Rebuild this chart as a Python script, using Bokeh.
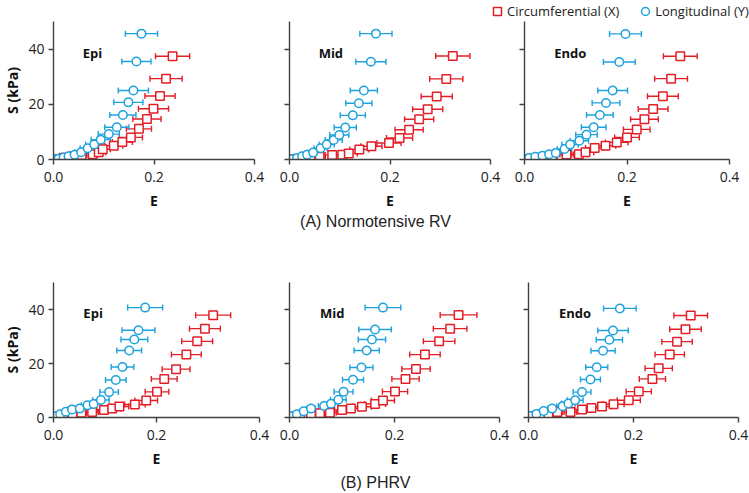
from bokeh.plotting import figure
from bokeh.models import (ColumnDataSource, Whisker, TeeHead, Range1d, FixedTicker,
                          Label, Legend, LegendItem, NumeralTickFormatter, CustomJSTickFormatter)
from bokeh.layouts import column, row
from bokeh.embed import file_html
from bokeh.resources import INLINE

RED = "#E41E26"
BLUE = "#1EA2DE"

# ---------------- (A) Normotensive RV ----------------
a_epi_circ_E = [0.000, 0.007, 0.020, 0.040, 0.056, 0.078, 0.090, 0.098, 0.120, 0.137, 0.154, 0.170, 0.186, 0.199, 0.212, 0.224, 0.237]
a_epi_circ_S = [0.0, 0.2, 0.6, 1.2, 1.6, 1.9, 2.6, 3.7, 5.0, 6.3, 8.0, 11.1, 14.7, 18.4, 23.0, 29.3, 37.4]
a_epi_circ_err = [0.002, 0.003, 0.005, 0.008, 0.010, 0.012, 0.014, 0.015, 0.018, 0.020, 0.023, 0.025, 0.028, 0.030, 0.030, 0.032, 0.034]
a_epi_long_E = [0.003, 0.010, 0.020, 0.030, 0.042, 0.055, 0.068, 0.081, 0.094, 0.110, 0.126, 0.138, 0.149, 0.159, 0.165, 0.175]
a_epi_long_S = [0.1, 0.3, 0.7, 1.2, 1.7, 2.6, 4.1, 5.4, 7.2, 9.2, 11.7, 16.1, 20.7, 25.0, 35.5, 45.6]
a_epi_long_err = [0.002, 0.004, 0.006, 0.008, 0.010, 0.012, 0.015, 0.017, 0.019, 0.021, 0.024, 0.026, 0.029, 0.030, 0.029, 0.032]

a_mid_circ_E = [0.000, 0.012, 0.025, 0.042, 0.060, 0.085, 0.105, 0.118, 0.139, 0.163, 0.198, 0.219, 0.238, 0.258, 0.275, 0.293, 0.312, 0.325]
a_mid_circ_S = [0.0, 0.1, 0.2, 0.7, 1.0, 1.6, 1.7, 2.2, 3.6, 4.8, 6.0, 7.8, 10.8, 14.6, 18.2, 22.8, 29.2, 37.5]
a_mid_circ_err = [0.002, 0.004, 0.006, 0.008, 0.011, 0.014, 0.016, 0.017, 0.019, 0.021, 0.024, 0.026, 0.028, 0.029, 0.030, 0.031, 0.033, 0.034]
a_mid_long_E = [0.005, 0.015, 0.025, 0.035, 0.047, 0.062, 0.074, 0.088, 0.099, 0.111, 0.126, 0.138, 0.148, 0.162, 0.172]
a_mid_long_S = [0.1, 0.5, 1.2, 1.7, 2.5, 4.1, 5.4, 7.1, 8.9, 11.6, 16.0, 20.4, 25.0, 35.4, 45.6]
a_mid_long_err = [0.003, 0.005, 0.007, 0.009, 0.011, 0.013, 0.015, 0.017, 0.019, 0.022, 0.025, 0.026, 0.027, 0.030, 0.032]

a_endo_circ_E = [0.006, 0.019, 0.035, 0.054, 0.082, 0.106, 0.119, 0.137, 0.158, 0.180, 0.200, 0.219, 0.234, 0.251, 0.270, 0.286, 0.304]
a_endo_circ_S = [0.1, 0.2, 0.5, 1.0, 1.8, 1.9, 2.6, 4.2, 5.0, 6.2, 8.0, 10.9, 14.6, 18.3, 22.9, 29.3, 37.4]
a_endo_circ_err = [0.003, 0.005, 0.007, 0.010, 0.013, 0.015, 0.016, 0.018, 0.020, 0.022, 0.024, 0.026, 0.027, 0.029, 0.030, 0.032, 0.033]
a_endo_long_E = [0.003, 0.009, 0.021, 0.035, 0.048, 0.061, 0.078, 0.089, 0.107, 0.121, 0.135, 0.147, 0.159, 0.172, 0.185, 0.197]
a_endo_long_S = [0.1, 0.5, 1.0, 1.4, 1.9, 2.4, 3.8, 5.4, 6.8, 9.0, 11.7, 16.1, 20.5, 25.0, 35.3, 45.5]
a_endo_long_err = [0.002, 0.004, 0.006, 0.008, 0.010, 0.012, 0.014, 0.016, 0.018, 0.021, 0.024, 0.026, 0.027, 0.029, 0.031, 0.031]

# ---------------- (B) PHRV ----------------
b_epi_circ_E = [0.002, 0.008, 0.019, 0.037, 0.054, 0.075, 0.098, 0.114, 0.128, 0.158, 0.180, 0.201, 0.215, 0.238, 0.258, 0.279, 0.294, 0.310]
b_epi_circ_S = [0.0, 0.4, 0.9, 1.3, 1.8, 2.0, 2.8, 3.3, 4.1, 4.8, 6.3, 9.5, 14.3, 17.9, 23.3, 28.2, 32.9, 37.9]
b_epi_circ_err = [0.002, 0.004, 0.006, 0.008, 0.010, 0.012, 0.014, 0.016, 0.018, 0.020, 0.022, 0.023, 0.025, 0.027, 0.029, 0.030, 0.030, 0.034]
b_epi_long_E = [0.004, 0.013, 0.024, 0.036, 0.051, 0.066, 0.078, 0.092, 0.108, 0.121, 0.134, 0.147, 0.157, 0.165, 0.178]
b_epi_long_S = [0.5, 1.2, 2.1, 3.0, 3.3, 4.5, 5.0, 6.5, 9.4, 13.9, 18.7, 24.8, 28.9, 32.3, 40.7]
b_epi_long_err = [0.002, 0.004, 0.006, 0.008, 0.010, 0.012, 0.014, 0.016, 0.018, 0.020, 0.022, 0.024, 0.026, 0.032, 0.034]

b_mid_circ_E = [0.001, 0.011, 0.020, 0.041, 0.058, 0.077, 0.100, 0.117, 0.138, 0.163, 0.178, 0.201, 0.221, 0.241, 0.258, 0.285, 0.306, 0.322]
b_mid_circ_S = [0.0, 0.4, 0.9, 1.2, 1.6, 1.8, 2.8, 3.3, 4.0, 5.0, 6.3, 9.6, 14.3, 18.0, 23.3, 28.2, 32.9, 38.0]
b_mid_circ_err = [0.002, 0.004, 0.006, 0.008, 0.010, 0.012, 0.014, 0.016, 0.018, 0.020, 0.022, 0.024, 0.026, 0.027, 0.029, 0.030, 0.032, 0.035]
b_mid_long_E = [0.004, 0.014, 0.027, 0.041, 0.066, 0.079, 0.093, 0.103, 0.121, 0.137, 0.147, 0.157, 0.163, 0.178]
b_mid_long_S = [0.5, 1.2, 2.3, 3.3, 4.3, 5.1, 6.6, 9.5, 14.0, 18.5, 24.8, 28.9, 32.6, 40.7]
b_mid_long_err = [0.002, 0.004, 0.006, 0.008, 0.011, 0.013, 0.015, 0.018, 0.020, 0.022, 0.024, 0.026, 0.031, 0.034]

b_endo_circ_E = [0.003, 0.013, 0.025, 0.038, 0.055, 0.080, 0.102, 0.120, 0.140, 0.162, 0.191, 0.210, 0.236, 0.248, 0.269, 0.283, 0.299, 0.309]
b_endo_circ_S = [0.2, 0.6, 1.0, 1.2, 2.0, 2.0, 3.0, 3.5, 4.1, 4.9, 6.4, 9.6, 14.3, 18.2, 23.3, 28.1, 32.7, 37.8]
b_endo_circ_err = [0.002, 0.004, 0.006, 0.008, 0.010, 0.012, 0.014, 0.016, 0.018, 0.020, 0.022, 0.024, 0.025, 0.026, 0.028, 0.029, 0.030, 0.032]
b_endo_long_E = [0.003, 0.015, 0.029, 0.045, 0.065, 0.076, 0.089, 0.102, 0.118, 0.130, 0.142, 0.154, 0.161, 0.174]
b_endo_long_S = [0.6, 1.3, 2.4, 3.3, 4.2, 5.2, 6.4, 9.4, 14.1, 18.6, 24.7, 28.8, 32.2, 40.4]
b_endo_long_err = [0.002, 0.004, 0.006, 0.008, 0.011, 0.013, 0.015, 0.017, 0.019, 0.021, 0.023, 0.025, 0.029, 0.031]

x_ticks = [0, 0.2, 0.4]
y_ticks = [0, 20, 40]
legend_labels = ["Circumferential (X)", "Longitudinal (Y)"]
row_titles = ["(A) Normotensive RV", "(B) PHRV"]
layer_names = ["Epi", "Mid", "Endo"]

TICK_FONT = "Open Sans"
AXIS_COLOR = "#404040"


def add_series(p, E, S, err, color, marker):
    lo = [e - d for e, d in zip(E, err)]
    hi = [e + d for e, d in zip(E, err)]
    src = ColumnDataSource(dict(E=E, S=S, lo=lo, hi=hi))
    w = Whisker(source=src, base="S", lower="lo", upper="hi", dimension="width",
                line_color=color, line_width=1.4, level="underlay",
                upper_head=TeeHead(size=6, line_color=color, line_width=1.4),
                lower_head=TeeHead(size=6, line_color=color, line_width=1.4))
    p.add_layout(w)
    return p.scatter("E", "S", source=src, marker=marker, size=8.5,
                     line_color=color, line_width=1.5, fill_color="white")


def make_panel(name, circ, long_, w, h, left, right, top, bottom, first):
    p = figure(width=w, height=h, x_range=Range1d(0, 0.4), y_range=Range1d(0, 50),
               output_backend="svg", toolbar_location=None,
               min_border_left=left, min_border_right=right,
               min_border_top=top, min_border_bottom=bottom)
    p.grid.visible = False
    p.outline_line_color = None
    for ax in (p.xaxis[0], p.yaxis[0]):
        ax.axis_line_color = AXIS_COLOR
        ax.axis_line_width = 1.4
        ax.major_tick_line_color = AXIS_COLOR
        ax.major_tick_line_width = 1.4
        ax.major_tick_out = 5
        ax.major_tick_in = 0
        ax.minor_tick_line_color = None
        ax.major_label_text_font = TICK_FONT
        ax.major_label_text_font_size = "14px"
        ax.major_label_text_color = "#222222"
        ax.axis_label_text_font = TICK_FONT
        ax.axis_label_text_font_size = "14px"
        ax.axis_label_text_font_style = "bold"
        ax.axis_label_text_color = "#111111"
    p.xaxis.ticker = FixedTicker(ticks=x_ticks)
    p.xaxis.formatter = NumeralTickFormatter(format="0.0")
    p.xaxis.major_label_standoff = 7
    p.xaxis.axis_label = "E"
    p.xaxis.axis_label_standoff = 6
    p.yaxis.ticker = FixedTicker(ticks=y_ticks)
    if first:
        p.yaxis.axis_label = "S (kPa)"
        p.yaxis.major_label_standoff = 4
        p.yaxis.axis_label_standoff = 3
    else:
        p.yaxis.formatter = CustomJSTickFormatter(code="return ''")
        p.yaxis.major_label_standoff = 0

    add_series(p, *circ, RED, "square")
    add_series(p, *long_, BLUE, "circle")

    p.add_layout(Label(x=0.058, y=38.7, text=name, text_font=TICK_FONT,
                       text_font_size="13px", text_font_style="bold",
                       text_color="#111111", text_baseline="middle"))
    return p


def make_title(text, h, y_from_bottom):
    t = figure(width=749, height=h, x_range=Range1d(0, 749), y_range=Range1d(0, h),
               output_backend="svg", toolbar_location=None,
               min_border=0, min_border_left=0, min_border_right=0,
               min_border_top=0, min_border_bottom=0)
    t.axis.visible = False
    t.grid.visible = False
    t.outline_line_color = None
    t.add_layout(Label(x=375, y=y_from_bottom, x_units="screen", y_units="screen", text=text,
                       text_align="center", text_baseline="middle",
                       text_font="Liberation Sans", text_font_size="16px",
                       text_color="#222222"))
    return t


# legend strip
lg = figure(width=749, height=21, x_range=Range1d(0, 1), y_range=Range1d(0, 1),
            output_backend="svg", toolbar_location=None,
            min_border=0, min_border_left=0, min_border_right=0,
            min_border_top=0, min_border_bottom=0)
lg.axis.visible = False
lg.grid.visible = False
lg.outline_line_color = None
r_c = lg.scatter([-5], [-5], marker="square", size=8.5, line_color=RED, line_width=1.5, fill_color="white")
r_l = lg.scatter([-5], [-5], marker="circle", size=8.5, line_color=BLUE, line_width=1.5, fill_color="white")
legend = Legend(items=[LegendItem(label=legend_labels[0], renderers=[r_c]),
                       LegendItem(label=legend_labels[1], renderers=[r_l])],
                orientation="horizontal", location=(487, 0),
                padding=0, margin=0, spacing=16, label_standoff=-4,
                glyph_width=20, glyph_height=20, label_height=20,
                label_text_font=TICK_FONT, label_text_font_size="13px",
                label_text_color="#222222", border_line_color=None,
                background_fill_alpha=0)
lg.add_layout(legend, "center")

A = [(a_epi_circ_E, a_epi_circ_S, a_epi_circ_err), (a_mid_circ_E, a_mid_circ_S, a_mid_circ_err),
     (a_endo_circ_E, a_endo_circ_S, a_endo_circ_err)]
AL = [(a_epi_long_E, a_epi_long_S, a_epi_long_err), (a_mid_long_E, a_mid_long_S, a_mid_long_err),
      (a_endo_long_E, a_endo_long_S, a_endo_long_err)]
B = [(b_epi_circ_E, b_epi_circ_S, b_epi_circ_err), (b_mid_circ_E, b_mid_circ_S, b_mid_circ_err),
     (b_endo_circ_E, b_endo_circ_S, b_endo_circ_err)]
BL = [(b_epi_long_E, b_epi_long_S, b_epi_long_err), (b_mid_long_E, b_mid_long_S, b_mid_long_err),
      (b_endo_long_E, b_endo_long_S, b_endo_long_err)]

# (width, min_border_left, min_border_right)
top_geo = [(266, 52, 12), (236, 23, 12), (247, 22, 20)]
bot_geo = [(271, 52, 12), (238, 18, 10), (240, 19, 11)]

top_row = row(*[make_panel(layer_names[i], A[i], AL[i], top_geo[i][0], 191,
                           top_geo[i][1], top_geo[i][2], 0, 52, i == 0) for i in range(3)])
bot_row = row(*[make_panel(layer_names[i], B[i], BL[i], bot_geo[i][0], 238,
                           bot_geo[i][1], bot_geo[i][2], 50, 52, i == 0) for i in range(3)])

layout = column(lg, top_row, make_title(row_titles[0], 20, 11), bot_row,
                make_title(row_titles[1], 22, 10))

open("out.html", "w").write(file_html(layout, INLINE))
